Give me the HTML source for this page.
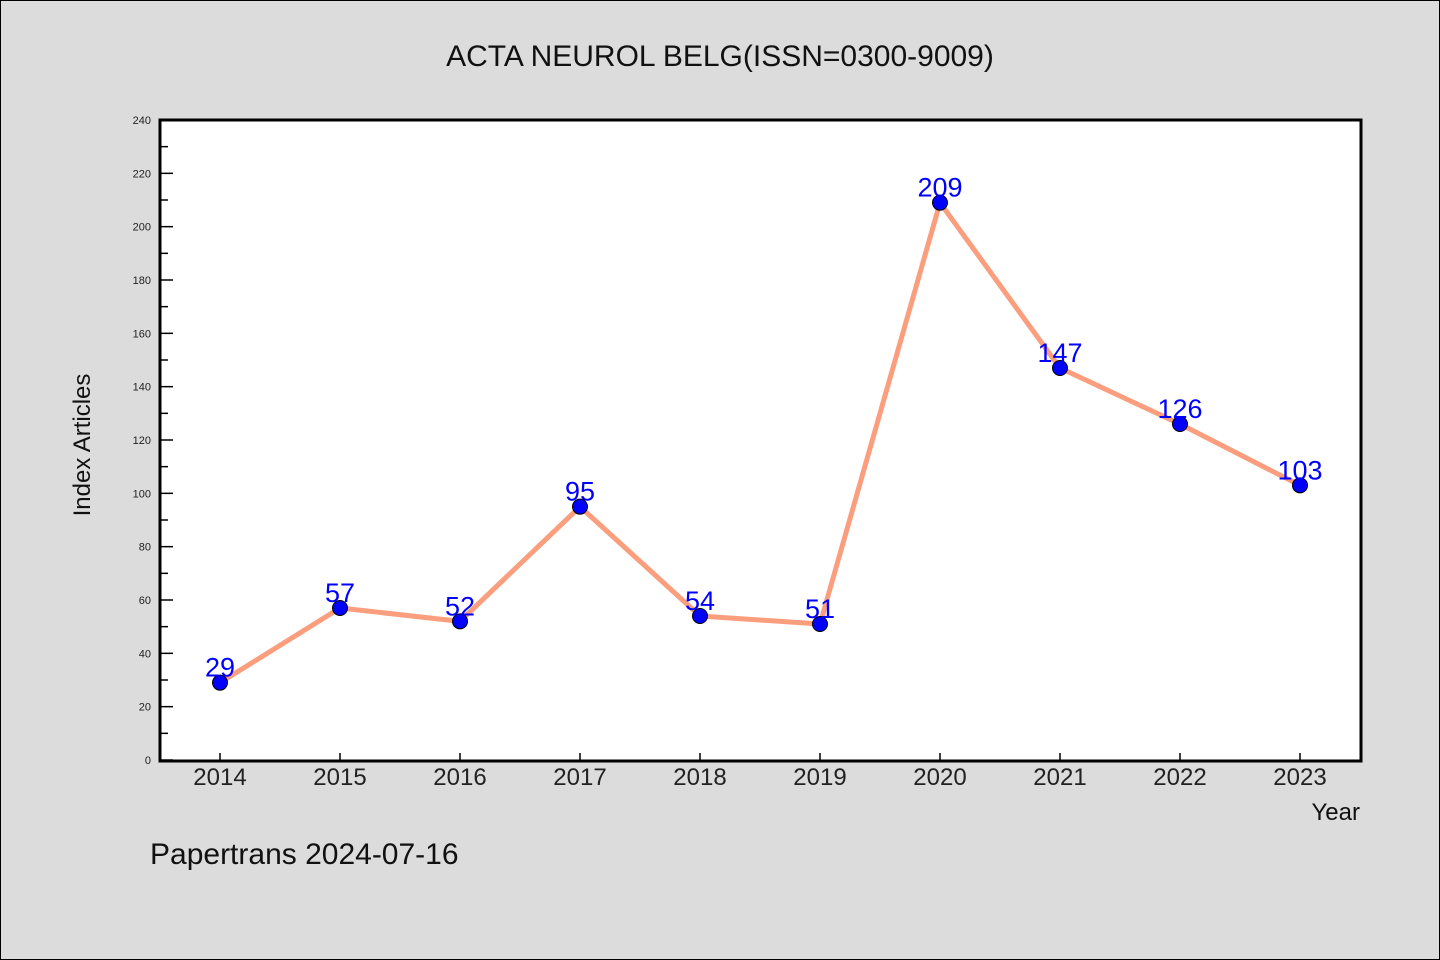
<!DOCTYPE html>
<html><head><meta charset="utf-8"><style>
body{margin:0;background:#dcdcdc;}
svg{display:block;font-family:"WenQuanYi Zen Hei","Liberation Sans",sans-serif;}
</style></head><body>
<svg id="chart" width="1440" height="960" xmlns="http://www.w3.org/2000/svg">
<rect x="0.5" y="0.5" width="1439" height="959" fill="#dcdcdc" stroke="#000"/>
<text x="720" y="66" text-anchor="middle" font-size="30" fill="#111">ACTA NEUROL BELG(ISSN=0300-9009)</text>
<rect x="160" y="120" width="1201" height="641" fill="#fff"/>
<g id="yticks"></g>
<g id="xticks"></g>
<rect x="160" y="120" width="1201" height="641" fill="none" stroke="#000" stroke-width="3"/>
<g id="series"></g>
<text transform="translate(90,445) rotate(-90)" text-anchor="middle" font-size="24" fill="#111">Index Articles</text>
<text x="1360" y="820" text-anchor="end" font-size="24" fill="#111">Year</text>
<text x="150" y="864" font-size="30" fill="#111">Papertrans 2024-07-16</text>
</svg>
<script>
const years=[2014,2015,2016,2017,2018,2019,2020,2021,2022,2023];
const values=[29,57,52,95,54,51,209,147,126,103];
const yTicks=[0,20,40,60,80,100,120,140,160,180,200,220,240];
const NS="http://www.w3.org/2000/svg";
function xs(i){return 220+i*120;}
function ys(v){return 760-v*(640/240);}
function mk(tag,attrs,parent,txt){const e=document.createElementNS(NS,tag);for(const k in attrs)e.setAttribute(k,attrs[k]);if(txt!==undefined)e.textContent=txt;parent.appendChild(e);return e;}
const yg=document.getElementById('yticks'),xg=document.getElementById('xticks'),sg=document.getElementById('series');
yTicks.forEach(t=>{
  const l=mk('line',{x1:160,x2:173,y1:ys(t),y2:ys(t),stroke:'#000','stroke-width':1.5},yg);
  
  
  const tx=mk('text',{x:151,y:ys(t)+4,'text-anchor':'end','font-size':11,fill:'#222'},yg,String(t));
  
  
  if(t<240){const m=mk('line',{x1:160,x2:168,y1:ys(t+10),y2:ys(t+10),stroke:'#000','stroke-width':1.5},yg);
  
  }
});
years.forEach((y,i)=>{
  const l=mk('line',{x1:xs(i),x2:xs(i),y1:760,y2:753,stroke:'#000','stroke-width':1.5},xg);
  
  
  const tx=mk('text',{x:xs(i),y:785,'text-anchor':'middle','font-size':24,fill:'#222'},xg,String(y));
  
  
});
const pl=mk('polyline',{points:values.map((v,i)=>xs(i)+','+ys(v)).join(' '),fill:'none',stroke:'#fa9e7d','stroke-width':5,'stroke-linejoin':'round'},sg);


values.forEach((v,i)=>{
  const c=mk('circle',{cx:xs(i),cy:ys(v),r:7.5,fill:'#0000ff',stroke:'#000','stroke-width':1},sg);
  
  
  const t=mk('text',{x:xs(i),y:ys(v)+6-12,'text-anchor':'middle','font-size':27,fill:'#0000ff'},sg,String(v));
  
  
});
</script>
</body></html>
